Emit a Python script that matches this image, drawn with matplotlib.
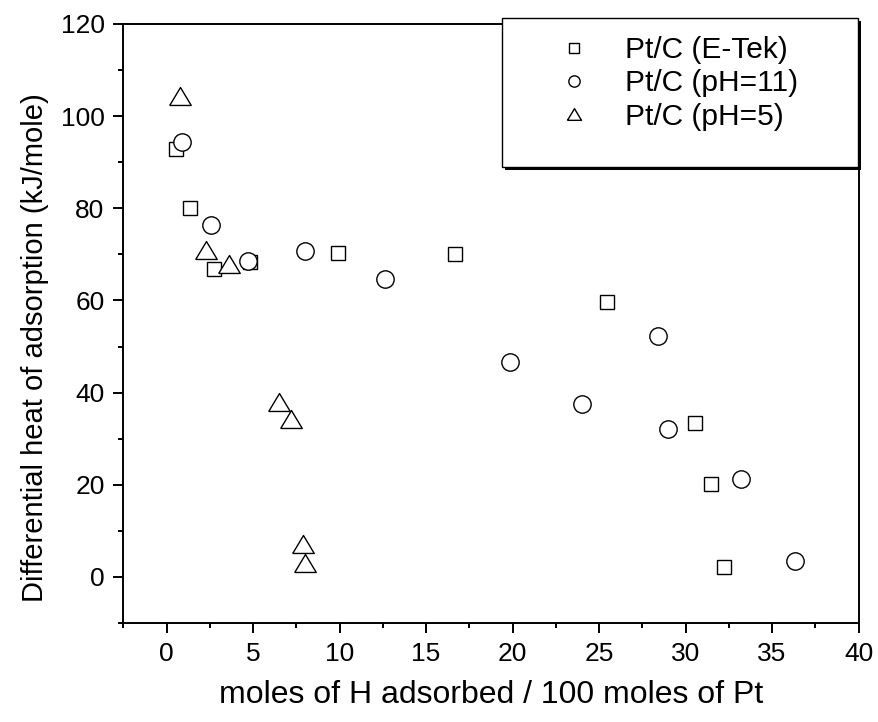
import matplotlib
matplotlib.use('Agg')
from matplotlib import pyplot as plt
from matplotlib.patches import Rectangle

plt.rcParams['font.family'] = ['Liberation Sans', 'DejaVu Sans']

# 数据：Pt/C (E-Tek)
etek_x = [0.54, 1.34, 2.73, 4.81, 9.9, 16.7, 25.45, 30.56, 31.5, 32.2]
etek_y = [92.9, 80.0, 66.8, 68.3, 70.3, 70.1, 59.6, 33.4, 20.1, 2.2]
# Pt/C (pH=11)
ph11_x = [0.92, 2.54, 4.73, 8.0, 12.6, 19.85, 24.0, 28.4, 29.0, 33.2, 36.35]
ph11_y = [94.3, 76.4, 68.6, 70.8, 64.7, 46.7, 37.5, 52.2, 32.1, 21.2, 3.4]
# Pt/C (pH=5)
ph5_x = [0.77, 2.27, 3.61, 6.48, 7.17, 7.87, 7.98]
ph5_y = [104.4, 70.9, 67.9, 38.0, 34.3, 7.2, 3.1]

labels = ['Pt/C (E-Tek)', 'Pt/C (pH=11)', 'Pt/C (pH=5)']

# 扁一点的三角形
tri = [(-1.2, -1.0), (1.2, -1.0), (0.0, 1.0), (-1.2, -1.0)]

fig = plt.figure(figsize=(8.79, 7.22), dpi=100)
ax = fig.add_axes([0.1403, 0.1371, 0.8364, 0.8297])

ax.plot(etek_x, etek_y, linestyle='none', marker='s', ms=10.5,
        mfc='white', mec='black', mew=1.0, label=labels[0])
ax.plot(ph11_x, ph11_y, linestyle='none', marker='o', ms=12.5,
        mfc='white', mec='black', mew=1.0, label=labels[1])
ax.plot(ph5_x, ph5_y, linestyle='none', marker=tri, ms=15.5,
        mfc='white', mec='black', mew=1.0, label=labels[2])

ax.set_xlim(-2.5, 40)
ax.set_ylim(-10, 120)
ax.set_xticks(range(0, 41, 5))
ax.set_xticks([-2.5 + 5 * i for i in range(9)], minor=True)
ax.set_yticks(range(0, 121, 20))
ax.set_yticks(range(-10, 121, 20), minor=True)

for s in ax.spines.values():
    s.set_linewidth(1.4)
ax.tick_params(which='major', direction='out', length=7.5, width=1.4,
               labelsize=19, pad=6, top=False, right=False)
ax.tick_params(which='minor', direction='out', length=3.8, width=1.4,
               top=False, right=False)

ax.set_xlabel('moles of H adsorbed / 100 moles of Pt', fontsize=23, labelpad=10)
ax.set_ylabel('Differential heat of adsorption (kJ/mole)', fontsize=21, labelpad=8)
ax.yaxis.label.set_y(0.46)  # 原图y轴标题稍微偏下

# 图例外框（带阴影）
box = Rectangle((0.571, 0.769), 0.405, 0.206, transform=fig.transFigure,
                facecolor='white', edgecolor='black', linewidth=1.0, zorder=5)
shadow = Rectangle((0.571 + 0.0034, 0.769 - 0.004), 0.405, 0.206,
                   transform=fig.transFigure, facecolor='black',
                   edgecolor='none', zorder=4.9)
fig.add_artist(shadow)
fig.add_artist(box)

handles, _ = ax.get_legend_handles_labels()
leg = fig.legend(handles, labels, loc='upper left', bbox_to_anchor=(0.636, 0.950),
                 fontsize=21.5, frameon=False,
                 markerscale=0.65, borderpad=0, labelspacing=0.18,
                 handlelength=1.0, handletextpad=1.2, borderaxespad=0)
leg.set_zorder(6)

fig.savefig('out.png', dpi=100)
